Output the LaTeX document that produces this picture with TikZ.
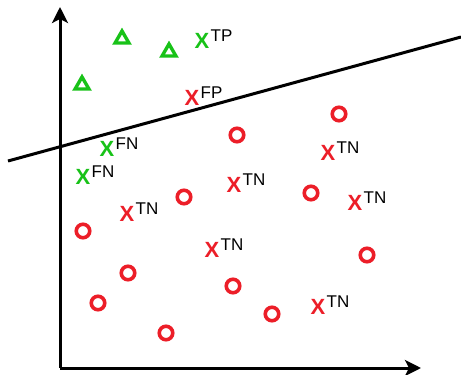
\documentclass[tikz,border=0pt]{standalone}
\usepackage{fontspec}
\setmainfont{Liberation Sans}
\usetikzlibrary{arrows.meta,shapes.geometric}
\definecolor{ptred}{RGB}{236,30,40}
\definecolor{ptgreen}{RGB}{24,194,24}

\begin{document}
\begin{tikzpicture}[x=1pt, y=-1pt,
  axis/.style={line width=3pt, -{Stealth[length=16pt,width=16pt,inset=4pt]}},
  ring/.style={circle, draw=ptred, line width=3.6pt, minimum size=13.5pt, inner sep=0pt},
  tri/.style={regular polygon, regular polygon sides=3, draw=ptgreen, line width=3.4pt, minimum size=16pt, inner sep=0pt},
  xpt/.style={text=#1, font=\fontsize{22}{22}\selectfont\bfseries, inner sep=0pt},
  tag/.style={font=\fontsize{17}{17}\selectfont, inner sep=0pt, anchor=base west, xshift=1pt, yshift=-8.6pt}]
  \useasboundingbox (0,0) rectangle (461,375);
  % axes
  \coordinate (O) at (60,368);
  \coordinate (Y) at (60,7);
  \coordinate (X) at (421,368);
  \draw[axis] (O)--(Y);
  \draw[axis] (O)--(X);
  % separating line
  \coordinate (L) at (8,161);
  \coordinate (R) at (461,37);
  \draw[line width=3pt] (L)--(R);
  % triangles
  \foreach \n/\x/\y in {1/122/39, 2/169/52, 3/82/85}{
    \node[tri] (t\n) at (\x,\y) {};
  }
  % circles
  \foreach \n/\x/\y in {1/339/114, 2/237/135, 3/184/197, 4/311/193, 5/83/231, 6/128/273,
                        7/98/303, 8/233/286, 9/272/314, 10/166/333, 11/367/255}{
    \node[ring] (c\n) at (\x,\y) {};
  }
  % X points with their tags
  \foreach \n/\x/\y/\c/\t in {tp/202/41/ptgreen/TP, fp/192/98/ptred/FP,
                              fn1/107/149/ptgreen/FN, fn2/83/177/ptgreen/FN,
                              tn1/127/214/ptred/TN, tn2/234/185/ptred/TN, tn3/328/153/ptred/TN,
                              tn4/355/203/ptred/TN, tn5/212/250/ptred/TN, tn6/318/307/ptred/TN}{
    \node[xpt=\c, label={[tag]north east:\t}] (\n) at (\x,\y) {X};
  }
\end{tikzpicture}
\end{document}
